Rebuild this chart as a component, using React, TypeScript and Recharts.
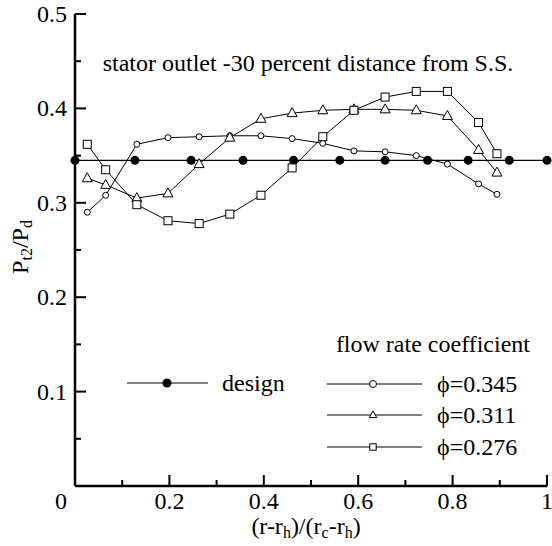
import { Line, LineChart, XAxis, YAxis } from "recharts";

// radial positions shared by the three measured flow rates
const X_POS = [0.026, 0.065, 0.131, 0.197, 0.263, 0.328, 0.394, 0.46, 0.525, 0.591, 0.657, 0.723, 0.789, 0.855, 0.894];
const PHI_345 = [0.29, 0.308, 0.362, 0.369, 0.37, 0.371, 0.371, 0.368, 0.363, 0.355, 0.354, 0.35, 0.341, 0.32, 0.309];
const PHI_311 = [0.326, 0.319, 0.305, 0.31, 0.341, 0.369, 0.389, 0.395, 0.398, 0.399, 0.399, 0.398, 0.392, 0.356, 0.332];
const PHI_276 = [0.362, 0.335, 0.298, 0.281, 0.278, 0.288, 0.308, 0.337, 0.37, 0.398, 0.412, 0.418, 0.418, 0.385, 0.352];

// design value, marked at its own radial stations
const DESIGN_X = [0, 0.127, 0.246, 0.356, 0.463, 0.561, 0.657, 0.747, 0.833, 0.92, 1.0];
const DESIGN_VALUE = 0.345;

const X_TICKS = [0, 0.1, 0.2, 0.3, 0.4, 0.5, 0.6, 0.7, 0.8, 0.9, 1];
const Y_TICKS = [0, 0.05, 0.1, 0.15, 0.2, 0.25, 0.3, 0.35, 0.4, 0.45, 0.5];

const FONT = "'Liberation Serif', 'Times New Roman', serif";
const FS = 24;
const SUB = 16;

const toRows = (ys: number[]) => X_POS.map((x, i) => ({ x, y: ys[i] }));
const designRows = DESIGN_X.map((x) => ({ x, y: DESIGN_VALUE }));

const fmt = (v: number) => (v === 0 ? "0" : v === 1 ? "1" : v.toFixed(1));
const isMajorX = (v: number) => Math.round(v * 10) % 2 === 0;
const isMajorY = (v: number) => Math.round(v * 100) % 10 === 0;

function BottomTick(p: any) {
  const { x, y, payload } = p;
  const v = payload.value;
  const major = isMajorX(v);
  return (
    <g>
      <line x1={x} x2={x} y1={y} y2={y - (major ? 11 : 6)} stroke="#000" strokeWidth={2} />
      {major && v !== 0 && (
        <text x={x} y={y + 23} textAnchor="middle" fontFamily={FONT} fontSize={FS} fill="#000">
          {fmt(v)}
        </text>
      )}
    </g>
  );
}

function TopTick(p: any) {
  const { x, y, payload } = p;
  const major = isMajorX(payload.value);
  return <line x1={x} x2={x} y1={y} y2={y + (major ? 11 : 6)} stroke="#000" strokeWidth={2} />;
}

function LeftTick(p: any) {
  const { x, y, payload } = p;
  const v = payload.value;
  const major = isMajorY(v);
  return (
    <g>
      <line x1={x} x2={x + (major ? 11 : 6)} y1={y} y2={y} stroke="#000" strokeWidth={2} />
      {major && (
        // the lone "0" sits below the corner, shared by both axes
        <text x={x - 8} y={y + (v === 0 ? 23 : 8)} textAnchor="end" fontFamily={FONT} fontSize={FS} fill="#000">
          {fmt(v)}
        </text>
      )}
    </g>
  );
}

function RightTick(p: any) {
  const { x, y, payload } = p;
  const major = isMajorY(payload.value);
  return <line x1={x} x2={x - (major ? 11 : 6)} y1={y} y2={y} stroke="#000" strokeWidth={2} />;
}

const Circle = ({ cx, cy, r = 4.5 }: any) => <circle cx={cx} cy={cy} r={r} fill="#fff" stroke="#000" strokeWidth={1} />;
const Dot = ({ cx, cy }: any) => <circle cx={cx} cy={cy} r={4.5} fill="#000" />;
const Tri = ({ cx, cy, s = 1 }: any) => (
  <polygon
    points={`${cx},${cy - 5.5 * s} ${cx - 5 * s},${cy + 3.5 * s} ${cx + 5 * s},${cy + 3.5 * s}`}
    fill="#fff"
    stroke="#000"
    strokeWidth={1}
  />
);
const Sq = ({ cx, cy, h = 4 }: any) => (
  <rect x={cx - h} y={cy - h} width={h * 2} height={h * 2} fill="#fff" stroke="#000" strokeWidth={1} />
);

const axisLine = { stroke: "#000", strokeWidth: 2.5 };

export default function App() {
  return (
    <div style={{ position: "absolute", left: 0, top: 0, width: 552, height: 546, background: "#fff" }}>
      <LineChart width={552} height={546} margin={{ top: 14, right: 5, bottom: 0, left: 0 }}>
        <XAxis
          xAxisId="b"
          type="number"
          dataKey="x"
          domain={[0, 1]}
          ticks={X_TICKS}
          interval={0}
          height={60}
          axisLine={axisLine}
          tickLine={false}
          tickSize={0}
          tickMargin={0}
          tick={<BottomTick />}
        />
        <XAxis
          xAxisId="t"
          orientation="top"
          type="number"
          dataKey="x"
          domain={[0, 1]}
          ticks={X_TICKS}
          interval={0}
          height={0}
          axisLine={axisLine}
          tickLine={false}
          tickSize={0}
          tickMargin={0}
          tick={<TopTick />}
        />
        <YAxis
          yAxisId="l"
          type="number"
          domain={[0, 0.5]}
          ticks={Y_TICKS}
          interval={0}
          width={75}
          axisLine={axisLine}
          tickLine={false}
          tickSize={0}
          tickMargin={0}
          tick={<LeftTick />}
        />
        <YAxis
          yAxisId="r"
          orientation="right"
          type="number"
          domain={[0, 0.5]}
          ticks={Y_TICKS}
          interval={0}
          width={0}
          axisLine={axisLine}
          tickLine={false}
          tickSize={0}
          tickMargin={0}
          tick={<RightTick />}
        />
        <Line
          xAxisId="b"
          yAxisId="l"
          data={designRows}
          dataKey="y"
          stroke="#000"
          strokeWidth={1.3}
          dot={<Dot />}
          isAnimationActive={false}
        />
        <Line
          xAxisId="b"
          yAxisId="l"
          data={toRows(PHI_345)}
          dataKey="y"
          stroke="#000"
          strokeWidth={1}
          dot={<Circle />}
          isAnimationActive={false}
        />
        <Line
          xAxisId="b"
          yAxisId="l"
          data={toRows(PHI_311)}
          dataKey="y"
          stroke="#000"
          strokeWidth={1}
          dot={<Tri />}
          isAnimationActive={false}
        />
        <Line
          xAxisId="b"
          yAxisId="l"
          data={toRows(PHI_276)}
          dataKey="y"
          stroke="#000"
          strokeWidth={1}
          dot={<Sq />}
          isAnimationActive={false}
        />
      </LineChart>

      {/* title, axis titles and the in-plot legend */}
      <svg
        width={552}
        height={546}
        style={{ position: "absolute", left: 0, top: 0, pointerEvents: "none" }}
        fontFamily={FONT}
        fill="#000"
      >
        <text x={308} y={71} textAnchor="middle" fontSize={FS}>
          stator outlet -30 percent distance from S.S.
        </text>

        <text transform="translate(28,247) rotate(-90)" textAnchor="middle" fontSize={FS}>
          P<tspan fontSize={SUB} baselineShift="-25%">t2</tspan>/P<tspan fontSize={SUB} baselineShift="-25%">d</tspan>
        </text>

        <text x={306} y={534} textAnchor="middle" fontSize={FS}>
          (r-r<tspan fontSize={SUB} baselineShift="-25%">h</tspan>)/(r<tspan fontSize={SUB} baselineShift="-25%">c</tspan>-r<tspan fontSize={SUB} baselineShift="-25%">h</tspan>)
        </text>

        <text x={530} y={352} textAnchor="end" fontSize={FS}>
          flow rate coefficient
        </text>

        <line x1={127} x2={208} y1={383} y2={383} stroke="#000" strokeWidth={1} />
        <Dot cx={167} cy={383} />
        <text x={222} y={391} fontSize={FS}>design</text>

        <line x1={327} x2={422} y1={384} y2={384} stroke="#000" strokeWidth={1} />
        <Circle cx={373} cy={384} r={3.5} />
        <text x={437} y={392} fontSize={FS}>ϕ=0.345</text>

        <line x1={327} x2={422} y1={415} y2={415} stroke="#000" strokeWidth={1} />
        <Tri cx={373} cy={415} s={0.75} />
        <text x={437} y={423} fontSize={FS}>ϕ=0.311</text>

        <line x1={327} x2={422} y1={447} y2={447} stroke="#000" strokeWidth={1} />
        <Sq cx={373} cy={447} h={3.2} />
        <text x={437} y={455} fontSize={FS}>ϕ=0.276</text>
      </svg>
    </div>
  );
}
